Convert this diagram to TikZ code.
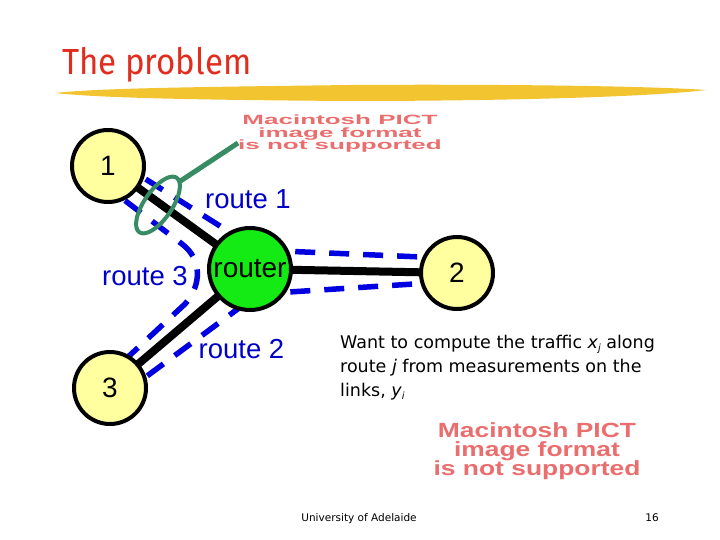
\documentclass[tikz,border=0pt]{standalone}
\usepackage{fontspec}
\setmainfont{Liberation Sans}
\newfontfamily\dejavu{DejaVu Sans}
\newfontfamily\titlefont{Fira Sans}
\usetikzlibrary{backgrounds}
\definecolor{routeblue}{RGB}{0,0,225}
\definecolor{labelblue}{RGB}{0,0,200}
\definecolor{nodeyellow}{RGB}{255,255,160}
\definecolor{routergreen}{RGB}{20,235,20}
\definecolor{lassogreen}{RGB}{55,140,100}
\definecolor{titlered}{RGB}{225,45,30}
\definecolor{pictred}{RGB}{235,110,110}
\definecolor{brushgold}{RGB}{242,196,48}
\begin{document}
\begin{tikzpicture}[x=1pt,y=-1pt,
  hostnode/.style={circle, draw=black, line width=4pt, fill=nodeyellow, minimum size=72pt, inner sep=0pt, font=\fontsize{28}{30}\selectfont},
  routernode/.style={hostnode, fill=routergreen, minimum size=82pt},
  link/.style={line width=8pt, draw=black},
  route/.style={line width=5.5pt, draw=routeblue, dash pattern=on 20pt off 14pt},
  routelabel/.style={text=labelblue, font=\fontsize{27.5}{30}\selectfont, inner sep=0pt, anchor=base},
  lasso/.style={line width=4pt, draw=lassogreen},
  pictA/.style={text=pictred, inner sep=0pt, anchor=base, font=\fontsize{10}{12}\selectfont\bfseries, xscale=2.6, yscale=1.34},
  pictB/.style={text=pictred, inner sep=0pt, anchor=base, font=\fontsize{10}{12}\selectfont\bfseries, xscale=2.64, yscale=2.05},
  body/.style={font=\dejavu\fontsize{17.5}{24}\selectfont, anchor=base west, inner sep=0pt},
  footer/.style={font=\dejavu\fontsize{10.5}{12}\selectfont, inner sep=0pt, anchor=base}]
\useasboundingbox (0,0) rectangle (720,540);

% title and brush stroke
\node[anchor=base west, inner sep=0pt, text=titlered, font=\titlefont\fontsize{33}{40}\selectfont, yscale=1.1] (title) at (62,75) {The problem};
\fill[brushgold] (55,93) .. controls (100,88) and (200,87) .. (350,85) .. controls (500,84) and (650,86) .. (706,90) .. controls (650,97) and (500,101) .. (350,101) .. controls (200,100) and (100,98) .. (55,93) -- cycle;

% nodes
\node[hostnode] (n1) at (108,166) {1};
\node[routernode] (rt) at (250,269) {router};
\node[hostnode] (n2) at (457,273) {2};
\node[hostnode] (n3) at (110,388) {3};

% route way points
\coordinate (r1s) at (117,161);
\coordinate (r1c) at (258,250);
\coordinate (r1e) at (445,258);
\coordinate (r2s) at (120,396);
\coordinate (r2c) at (258,294);
\coordinate (r2e) at (445,282);
\coordinate (r3s) at (98,180);
\coordinate (r3a) at (182,244);
\coordinate (r3b) at (185,304);
\coordinate (r3e) at (100,383);

\begin{scope}[on background layer]
  \fill[white] (0,0) rectangle (720,540);
  \draw[route] (r1s) -- (r1c) -- (r1e);
  \draw[route] (r2s) -- (r2c) -- (r2e);
  \draw[route] (r3s) -- (r3a) .. controls (202,259) and (202,285) .. (r3b) -- (r3e);
  \draw[link] (n1.center) -- (rt.center);
  \draw[link] (rt.center) -- (n2.center);
  \draw[link] (rt.center) -- (n3.center);
\end{scope}

% lasso
\draw[lasso] plot[domain=0:355, samples=72, smooth cycle, variable=\t] ({158+18.6*cos(\t)+11.5*sin(\t)}, {205-27.2*cos(\t)+7.9*sin(\t)});
\coordinate (lassotop) at (179,182);
\coordinate (lassoend) at (238,143);
\draw[lasso, line width=5pt] (lassotop) -- (lassoend);

% route labels
\node[routelabel] (l1) at (248,209) {route 1};
\node[routelabel] (l3) at (145,285) {route 3};
\node[routelabel] (l2) at (241.5,358) {route 2};

% PICT placeholders
\node[pictA] (pa1) at (340,125) {Macintosh PICT};
\node[pictA] (pa2) at (340,137.5) {image format};
\node[pictA] (pa3) at (340,150) {is not supported};
\node[pictB] (pb1) at (537,437) {Macintosh PICT};
\node[pictB] (pb2) at (537,456) {image format};
\node[pictB] (pb3) at (537,475) {is not supported};

% body text
\node[body] (t1) at (340,348) {Want to compute the traffic {\itshape x}\raisebox{-0.35ex}{\fontsize{10}{12}\selectfont\itshape j} along};
\node[body] (t2) at (340,372) {route {\itshape j} from measurements on the};
\node[body] (t3) at (340,396) {links, {\itshape y}\raisebox{-0.35ex}{\fontsize{10}{12}\selectfont\itshape i}};

% footer
\node[footer] (univ) at (359,521) {University of Adelaide};
\node[footer, anchor=base east] (page) at (659,521) {16};
\end{tikzpicture}
\end{document}
